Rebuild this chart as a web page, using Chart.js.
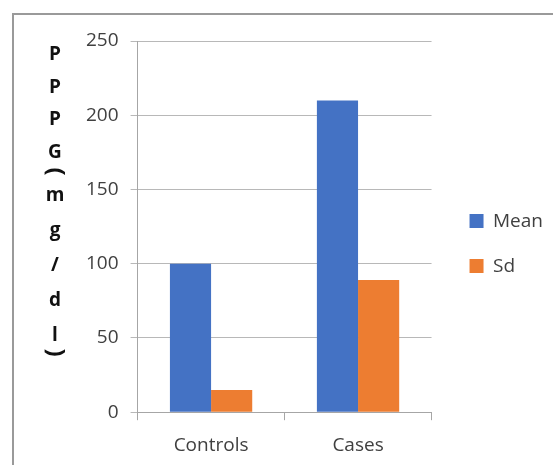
<!DOCTYPE html>
<html>
<head>
<meta charset="utf-8">
<script src="https://cdn.jsdelivr.net/npm/chart.js@4/dist/chart.umd.min.js"></script>
<style>
  html, body { margin: 0; padding: 0; background: #fff; overflow: hidden; }
  #frame {
    position: absolute; left: 12px; top: 13px; width: 700px; height: 700px;
    border-left: 2px solid #9a9a9a; border-top: 2px solid #9a9a9a;
  }
  #ppgChart { position: absolute; left: 0; top: 0; }
</style>
</head>
<body>
<div id="frame"></div>
<canvas id="ppgChart" width="553" height="465"></canvas>
<script>
const categories = ["Controls", "Cases"];
const meanValues = [100, 210];
const sdValues = [15, 89];
const yTitleChars = ["P", "P", "P", "G", "(", "m", "g", "/", "d", "l", ")"];

const fontFamily = '"Open Sans", "Liberation Sans", sans-serif';
const axisGrey = "#a6a6a6";

// vertical, letter-by-letter axis title; parentheses are turned on their side
const stackedTitle = {
  id: "stackedTitle",
  afterDraw(chart) {
    const ctx = chart.ctx;
    const x = 55;
    let y = chart.chartArea.top + 14;
    ctx.save();
    ctx.fillStyle = "#111";
    ctx.textAlign = "center";
    ctx.textBaseline = "middle";
    yTitleChars.forEach((ch, i) => {
      const isParen = ch === "(" || ch === ")";
      if (i > 0) {
        const prev = yTitleChars[i - 1];
        if (ch === "(") y += 19;
        else if (ch === ")") y += 17;
        else if (prev === "(") y += 24;
        else y += prev === prev.toUpperCase() && prev !== "/" ? 32.5 : 35;
      }
      if (isParen) {
        ctx.font = "bold 24px " + fontFamily;
        ctx.save();
        ctx.translate(x, y);
        ctx.rotate(Math.PI / 2);
        ctx.fillText(ch, 0, 0);
        ctx.restore();
      } else {
        ctx.font = "bold 19px " + fontFamily;
        ctx.fillText(ch, x, y);
      }
    });
    ctx.restore();
  },
};

const ctx = document.getElementById("ppgChart").getContext("2d");

let ppgChart = new Chart(ctx, {
  type: "bar",
  data: {
    labels: categories,
    datasets: [
      {
        label: "Mean",
        data: meanValues,
        backgroundColor: "#4472C4",
      },
      {
        label: "Sd",
        data: sdValues,
        backgroundColor: "#ED7D31",
      },
    ],
  },
  options: {
    responsive: false,
    animation: false,
    layout: {
      padding: { left: 74, top: 41, right: 0, bottom: -6 },
    },
    datasets: {
      bar: { barPercentage: 1, categoryPercentage: 0.56 },
    },
    plugins: {
      tooltip: { enabled: false },
      legend: {
        position: "right",
        fullSize: false,
        maxWidth: 140,
        // empty title only used as a spacer above the items
        title: {
          display: true,
          text: "",
          font: { size: 10 },
          padding: { top: 11, bottom: 11 },
        },
        labels: {
          boxWidth: 14,
          boxHeight: 14,
          padding: 26,
          color: "#404040",
          font: { family: fontFamily, size: 19 },
        },
      },
    },
    scales: {
      x: {
        grid: {
          display: true,
          drawOnChartArea: false,
          tickLength: 8,
          color: axisGrey,
        },
        border: { color: axisGrey, width: 1 },
        ticks: {
          padding: 14,
          color: "#404040",
          font: { family: fontFamily, size: 19 },
        },
      },
      y: {
        min: 0,
        max: 250,
        grid: { tickLength: 7, color: "#b8b8b8" },
        border: { color: axisGrey, width: 1 },
        ticks: {
          stepSize: 50,
          padding: 12,
          color: "#404040",
          font: { family: fontFamily, size: 19 },
        },
      },
      // keeps a gap between the plot and the legend
      gap: {
        type: "linear",
        position: "right",
        display: true,
        grid: { display: false },
        border: { display: false },
        ticks: { display: false },
        afterFit(scale) {
          scale.width = 12;
        },
      },
    },
  },
  plugins: [stackedTitle],
});
</script>
</body>
</html>
